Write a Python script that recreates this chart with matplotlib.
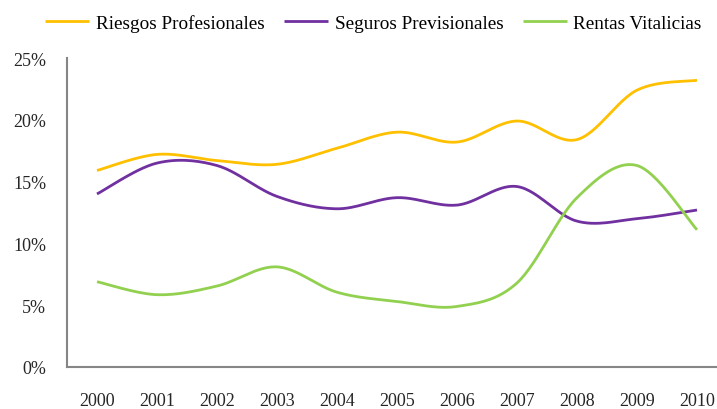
import numpy as np
import matplotlib
matplotlib.use('Agg')
import matplotlib.pyplot as plt
from matplotlib.ticker import FuncFormatter

years = [2000, 2001, 2002, 2003, 2004, 2005, 2006, 2007, 2008, 2009, 2010]
riesgos = [15.9, 17.2, 16.7, 16.4, 17.7, 19.0, 18.2, 19.9, 18.4, 22.4, 23.2]
seguros = [14.0, 16.5, 16.3, 13.8, 12.8, 13.7, 13.1, 14.6, 11.8, 12.0, 12.7]
rentas = [6.9, 5.85, 6.55, 8.1, 6.05, 5.3, 4.9, 6.8, 13.7, 16.3, 11.1]

series = [
    ('Riesgos Profesionales', riesgos, '#FFC000'),
    ('Seguros Previsionales', seguros, '#7030A0'),
    ('Rentas Vitalicias', rentas, '#92D050'),
]


def smooth(x, y, n=30):
    # excel-like smoothed line: Catmull-Rom through bezier control points
    x = np.asarray(x, float)
    y = np.asarray(y, float)
    px = np.concatenate([[x[0]], x, [x[-1]]])
    py = np.concatenate([[y[0]], y, [y[-1]]])
    xs, ys = [], []
    t = np.linspace(0, 1, n)
    for i in range(1, len(px) - 2):
        p0 = np.array([px[i], py[i]])
        p3 = np.array([px[i + 1], py[i + 1]])
        c1 = p0 + (np.array([px[i + 1], py[i + 1]]) - np.array([px[i - 1], py[i - 1]])) / 6
        c2 = p3 - (np.array([px[i + 2], py[i + 2]]) - np.array([px[i], py[i]])) / 6
        b = (((1 - t) ** 3)[:, None] * p0 + (3 * (1 - t) ** 2 * t)[:, None] * c1
             + (3 * (1 - t) * t ** 2)[:, None] * c2 + (t ** 3)[:, None] * p3)
        xs.extend(b[:, 0])
        ys.extend(b[:, 1])
    return np.array(xs), np.array(ys)


plt.rcParams['font.family'] = ['Liberation Serif', 'DejaVu Serif']
fig = plt.figure(figsize=(7.17, 4.10), dpi=100)
ax = fig.add_axes([67 / 717, 42 / 410, 650 / 717, 309 / 410])

for name, vals, col in series:
    sx, sy = smooth(years, vals)
    ax.plot(sx, sy / 100, color=col, lw=2.0, label=name, solid_capstyle='butt')

ax.set_xlim(1999.5, 1999.5 + 650 / 60)
ax.set_ylim(0, 0.25)
ax.set_xticks(years)
ax.set_yticks(np.arange(0, 0.26, 0.05))
ax.yaxis.set_major_formatter(FuncFormatter(lambda v, p: '%d%%' % round(v * 100)))
ax.tick_params(axis='both', length=0, labelsize=13, colors='#262626')
ax.tick_params(axis='y', pad=15)
ax.tick_params(axis='x', pad=18)
for s in ['top', 'right']:
    ax.spines[s].set_visible(False)
for s in ['left', 'bottom']:
    ax.spines[s].set_color('#868686')
    ax.spines[s].set_linewidth(1.5)

fig.legend(loc='upper center', bbox_to_anchor=(0.521, 1.005), ncol=3, frameon=False,
           fontsize=13.8, handlelength=2.3, handletextpad=0.35, columnspacing=1.0)

fig.savefig('out.png', dpi=100)
